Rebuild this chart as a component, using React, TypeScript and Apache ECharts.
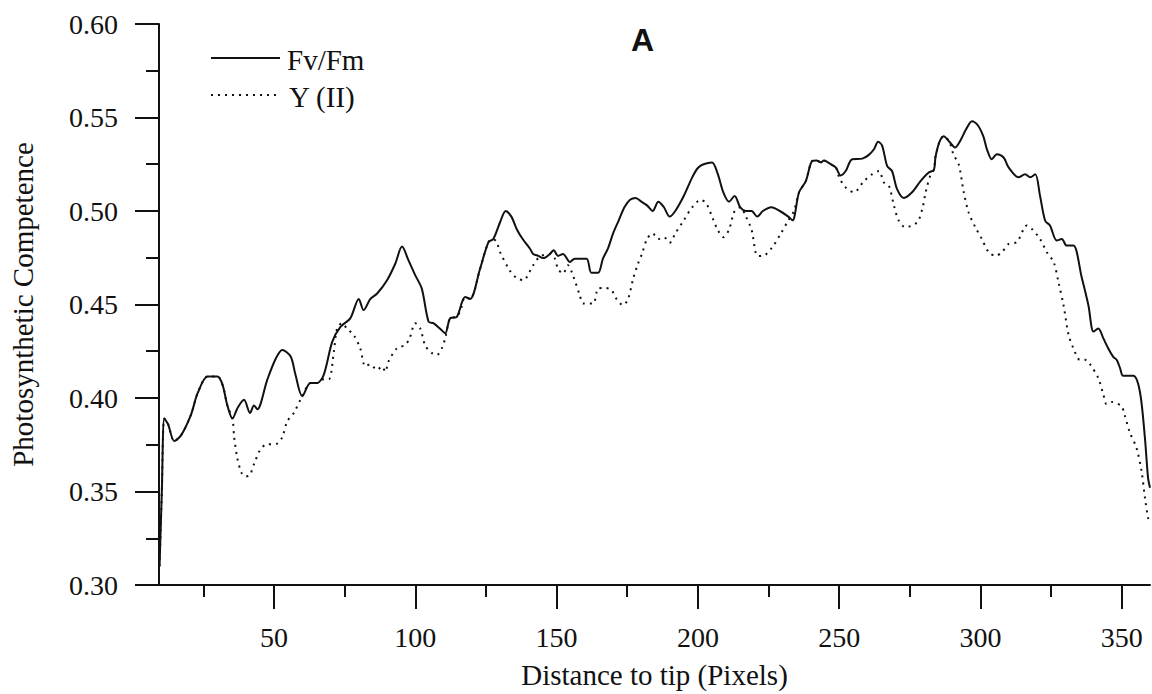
import React, { useEffect, useRef } from "react";
import * as echarts from "echarts";

const fvX = [9.5, 10.3, 11.2, 12.5, 14.7, 17.1, 20.6, 23, 26.5, 30, 31.8, 33.5, 35.3, 37.1, 39.4, 41.5, 42.9, 44.1, 47.6, 50.6, 52.9, 55.9, 57.6, 60, 62.9, 65.3, 67.6, 70.6, 73.5, 77, 80, 81.7, 84.1, 86.5, 90, 92.9, 95.3, 97.6, 100, 102.3, 104.7, 106.4, 108.8, 110.6, 112.3, 114.7, 117.6, 119.4, 122.9, 125.9, 127.6, 130, 132, 134, 136, 138, 140.6, 141.7, 143.5, 145.3, 147.6, 149, 150.5, 152.3, 154.7, 156.4, 160.6, 162.3, 164.7, 166.4, 168.2, 170, 172, 174, 176, 178, 180, 182, 184, 186, 188, 190, 192, 195, 198, 200, 202, 205, 207, 209, 211, 213, 215, 217, 219, 221, 223, 226, 229, 232, 233.5, 235.8, 238.2, 240.5, 242, 243.5, 244.6, 247, 248.8, 250.5, 252.3, 254.6, 258.2, 260.5, 262.3, 263.8, 265.2, 267, 268.7, 270.5, 272.9, 275.8, 278.8, 281.7, 283.5, 284.1, 285.5, 287, 289, 291, 293, 295, 297, 299, 301, 302.3, 304, 305.8, 308.2, 310, 313.5, 315.8, 317.6, 319.4, 321.1, 322.9, 324.6, 327, 328.8, 330.5, 332.9, 335.8, 338.2, 340, 341.7, 343.5, 345.2, 347, 348.2, 349.4, 350.5, 354.1, 356.4, 358.2, 359.3, 360];
const fvY = [0.31, 0.35, 0.389, 0.386, 0.377, 0.38, 0.391, 0.4027, 0.4115, 0.4115, 0.407, 0.396, 0.389, 0.3947, 0.399, 0.392, 0.396, 0.394, 0.4097, 0.421, 0.4257, 0.4222, 0.4124, 0.401, 0.408, 0.408, 0.4124, 0.43, 0.438, 0.4426, 0.453, 0.447, 0.453, 0.4559, 0.463, 0.4718, 0.481, 0.4736, 0.4656, 0.4585, 0.4408, 0.44, 0.437, 0.4346, 0.4426, 0.4434, 0.454, 0.453, 0.469, 0.4834, 0.485, 0.494, 0.5, 0.497, 0.49, 0.485, 0.4798, 0.477, 0.476, 0.4748, 0.477, 0.479, 0.476, 0.477, 0.4727, 0.4745, 0.4745, 0.467, 0.467, 0.4745, 0.48, 0.488, 0.495, 0.502, 0.506, 0.507, 0.505, 0.503, 0.5, 0.505, 0.502, 0.497, 0.5, 0.508, 0.518, 0.523, 0.525, 0.526, 0.52, 0.51, 0.505, 0.508, 0.502, 0.5, 0.5, 0.497, 0.5, 0.502, 0.5, 0.497, 0.495, 0.51, 0.516, 0.5268, 0.527, 0.526, 0.527, 0.525, 0.5233, 0.519, 0.5214, 0.5277, 0.528, 0.53, 0.533, 0.537, 0.535, 0.524, 0.5214, 0.5117, 0.507, 0.51, 0.516, 0.5206, 0.522, 0.529, 0.537, 0.54, 0.537, 0.534, 0.538, 0.544, 0.548, 0.546, 0.54, 0.533, 0.5277, 0.5303, 0.5286, 0.5232, 0.518, 0.5197, 0.518, 0.5197, 0.508, 0.4948, 0.4922, 0.4842, 0.485, 0.4815, 0.4815, 0.4647, 0.4496, 0.4355, 0.4372, 0.4319, 0.4266, 0.422, 0.4204, 0.416, 0.4119, 0.4119, 0.4036, 0.3787, 0.3574, 0.352];

const yiiX = [9.5, 10.3, 11.2, 12.5, 14.7, 17.1, 20.6, 23, 26.5, 30, 31.8, 33.5, 35.3, 35.9, 37, 38.5, 40, 41.5, 43, 45, 47, 51, 52.9, 54.7, 57, 60, 62.9, 65.3, 67.6, 69.4, 71.2, 72.3, 74, 75.9, 78.2, 80.5, 82.3, 84, 86.5, 88.2, 89.4, 90.5, 93.5, 96.4, 98, 100, 101.8, 103.5, 105.9, 107.6, 109.4, 110.6, 112.3, 114.7, 116.4, 117.6, 119.4, 122.9, 125.9, 127.6, 128.8, 130, 133.5, 136, 138.2, 141.7, 144, 147.6, 149.4, 150.5, 152.3, 154, 155.8, 158.2, 159.4, 162.9, 164.7, 167, 169.4, 171.2, 173.5, 175.3, 177.1, 178.8, 180.2, 182, 184, 186, 188, 190, 192, 195, 198, 201, 203, 205, 207, 209, 211, 213, 215, 217, 219, 221.1, 223, 226, 229, 232, 234, 235.8, 238.2, 240.5, 242, 243.5, 244.6, 247, 248.8, 250, 252.3, 255.2, 258.8, 261.7, 264.1, 265.8, 267.6, 269.4, 271.1, 273.5, 277.6, 279.4, 280.6, 282.4, 283.5, 284.1, 285.5, 287, 289, 290.5, 292.3, 294.1, 295.8, 298.2, 300.5, 302.9, 305.3, 307.6, 310, 312.9, 316.4, 318.2, 321.1, 323.5, 325.9, 327.6, 329.4, 331.2, 332.9, 335.2, 337, 338.8, 341.7, 343.5, 344.6, 346.4, 349.9, 351, 352.9, 355.2, 357, 358.2, 359.3, 360];
const yiiY = [0.31, 0.35, 0.389, 0.386, 0.377, 0.38, 0.391, 0.4027, 0.4115, 0.4115, 0.407, 0.396, 0.389, 0.379, 0.368, 0.36, 0.358, 0.359, 0.365, 0.372, 0.375, 0.3755, 0.379, 0.3876, 0.392, 0.401, 0.408, 0.408, 0.41, 0.41, 0.425, 0.437, 0.44, 0.437, 0.4337, 0.4266, 0.4169, 0.418, 0.415, 0.4169, 0.414, 0.4195, 0.4266, 0.4283, 0.432, 0.44, 0.437, 0.428, 0.424, 0.423, 0.4266, 0.432, 0.4426, 0.4434, 0.4488, 0.454, 0.453, 0.469, 0.4834, 0.485, 0.4834, 0.478, 0.468, 0.464, 0.463, 0.471, 0.4755, 0.477, 0.4745, 0.469, 0.4665, 0.471, 0.4656, 0.455, 0.4505, 0.4505, 0.4585, 0.4589, 0.4577, 0.453, 0.4496, 0.453, 0.4638, 0.4718, 0.477, 0.485, 0.488, 0.485, 0.486, 0.483, 0.488, 0.495, 0.502, 0.506, 0.504, 0.497, 0.49, 0.486, 0.49, 0.5, 0.502, 0.497, 0.49, 0.476, 0.476, 0.48, 0.487, 0.495, 0.5, 0.51, 0.516, 0.5268, 0.527, 0.526, 0.527, 0.525, 0.5233, 0.518, 0.5126, 0.51, 0.516, 0.5197, 0.5214, 0.5153, 0.5135, 0.5028, 0.4948, 0.4913, 0.494, 0.501, 0.51, 0.5197, 0.522, 0.529, 0.537, 0.54, 0.537, 0.53, 0.525, 0.51, 0.4993, 0.4913, 0.485, 0.478, 0.476, 0.478, 0.4824, 0.4834, 0.4922, 0.4904, 0.485, 0.478, 0.4727, 0.462, 0.4496, 0.4337, 0.4266, 0.4204, 0.4204, 0.418, 0.4106, 0.4018, 0.3968, 0.3979, 0.3956, 0.391, 0.3814, 0.3734, 0.361, 0.3468, 0.336, 0.333];

const majorX = [50, 100, 150, 200, 250, 300, 350];
const minorX = [25, 75, 125, 175, 225, 275, 325];
const seriesNames = ["Fv/Fm", "Y (II)"];
const xName = "Distance to tip (Pixels)";
const yName = "Photosynthetic Competence";
const panelLabel = "A";

const serif = "Liberation Serif";
const INK = "#111111";

export default function App() {
  const ref = useRef<HTMLDivElement>(null);
  useEffect(() => {
    document.body.style.margin = "0";
    const chart = echarts.init(ref.current!, null, { renderer: "svg" });
    const fv = fvX.map((x, i) => [x, fvY[i]]);
    const yii = yiiX.map((x, i) => [x, yiiY[i]]);
    const richT = { t: { fontFamily: serif, fontSize: 28, color: INK } };
    chart.setOption({
      animation: false,
      backgroundColor: "#ffffff",
      textStyle: { fontFamily: serif },
      grid: { left: 158, top: 24, right: 2, bottom: 106, containLabel: false },
      title: {
        text: panelLabel,
        left: 626,
        top: 19,
        textStyle: { fontFamily: "Liberation Sans", fontWeight: "bold", fontSize: 32, color: INK },
      },
      graphic: [
        { type: "line", shape: { x1: 211, y1: 58, x2: 280, y2: 58 }, style: { stroke: INK, lineWidth: 2 } },
        { type: "line", shape: { x1: 211, y1: 95, x2: 280, y2: 95 }, style: { stroke: INK, lineWidth: 2, lineDash: [2, 5] } },
        { type: "text", x: 287, y: 60, style: { text: seriesNames[0], font: "29px Liberation Serif", fill: INK, verticalAlign: "middle", align: "left" } },
        { type: "text", x: 289, y: 97, style: { text: seriesNames[1], font: "29px Liberation Serif", fill: INK, verticalAlign: "middle", align: "left" } },
      ],
      xAxis: [
        {
          type: "value",
          min: 9.3,
          max: 360,
          position: "bottom",
          name: xName,
          nameLocation: "middle",
          nameGap: 75,
          nameTextStyle: { fontFamily: serif, fontSize: 29, color: INK },
          axisLine: { show: true, lineStyle: { color: INK, width: 2 } },
          axisTick: { show: true, length: 24, inside: false, customValues: majorX, lineStyle: { color: INK, width: 2 } },
          axisLabel: {
            customValues: majorX,
            margin: 38,
            fontFamily: serif,
            fontSize: 28,
            color: INK,
            formatter: (v: number) => "{t|" + String(v) + "}",
            rich: richT,
          },
          splitLine: { show: false },
        },
        {
          type: "value",
          min: 9.3,
          max: 360,
          position: "bottom",
          axisLine: { show: false },
          axisTick: { show: true, length: 12, inside: false, customValues: minorX, lineStyle: { color: INK, width: 2 } },
          axisLabel: { show: false },
          splitLine: { show: false },
        },
      ],
      yAxis: {
        type: "value",
        min: 0.3,
        max: 0.6,
        interval: 0.05,
        name: yName,
        nameLocation: "middle",
        nameGap: 122,
        nameTextStyle: { fontFamily: serif, fontSize: 29, color: INK },
        axisLine: { show: true, lineStyle: { color: INK, width: 2 } },
        axisTick: { show: true, length: 24, inside: false, lineStyle: { color: INK, width: 2 } },
        minorTick: { show: true, splitNumber: 2, length: 13, lineStyle: { color: INK, width: 2 } },
        axisLabel: {
          margin: 41,
          fontFamily: serif,
          fontSize: 28,
          color: INK,
          formatter: (v: number) => "{t|" + v.toFixed(2) + "}",
          rich: richT,
        },
        splitLine: { show: false },
        minorSplitLine: { show: false },
      },
      series: [
        {
          name: seriesNames[0],
          type: "line",
          data: fv,
          symbol: "none",
          smooth: 0.3,
          lineStyle: { color: INK, width: 2 },
          itemStyle: { color: INK },
        },
        {
          name: seriesNames[1],
          type: "line",
          data: yii,
          symbol: "none",
          smooth: 0.3,
          lineStyle: { color: INK, width: 2, type: [2, 5] },
          itemStyle: { color: INK },
        },
      ],
    });
    return () => chart.dispose();
  }, []);
  return <div ref={ref} style={{ width: 1152, height: 694 }} />;
}
